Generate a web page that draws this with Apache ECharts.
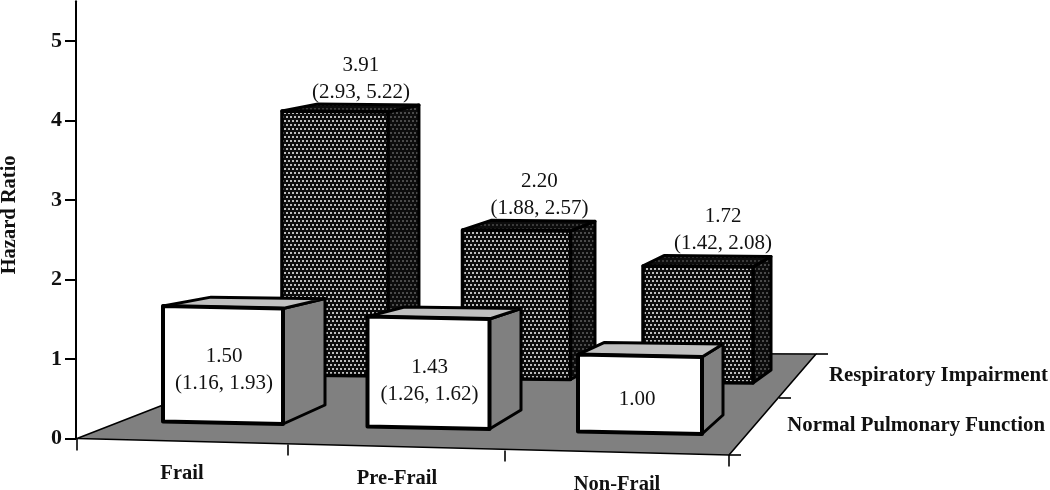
<!DOCTYPE html>
<html>
<head>
<meta charset="utf-8">
<title>Hazard Ratio</title>
<style>
  html, body { margin: 0; padding: 0; background: #fff; }
  #container { width: 1050px; height: 490px; }
</style>
<script src="https://cdn.jsdelivr.net/npm/echarts@6/dist/echarts.min.js"></script>
</head>
<body>
<div id="container"></div>
<script>
// data
var categories = ['Frail', 'Pre-Frail', 'Non-Frail'];
var rows = ['Normal Pulmonary Function', 'Respiratory Impairment'];
var tickLabels = [0, 1, 2, 3, 4, 5];
var normalValues = [1.50, 1.43, 1.00];
var normalLow = [1.16, 1.26, null];
var normalHigh = [1.93, 1.62, null];
var impairedValues = [3.91, 2.20, 1.72];
var impairedLow = [2.93, 1.88, 1.42];
var impairedHigh = [5.22, 2.57, 2.08];

var SERIF = '"Liberation Serif", serif';

// dotted screen used on the rear bars
function dots(bg, fg) {
  var c = document.createElement('canvas');
  c.width = 4;
  c.height = 8;
  var ctx = c.getContext('2d');
  ctx.fillStyle = bg;
  ctx.fillRect(0, 0, 4, 8);
  ctx.fillStyle = fg;
  ctx.fillRect(0, 0, 2, 2);
  ctx.fillRect(2, 4, 2, 2);
  return { image: c, repeat: 'repeat' };
}
var faceFill = dots('#0c0c0c', '#bcbcbc');
var sideFill = dots('#0c0c0c', '#4a4a4a');
var topFill = dots('#0c0c0c', '#3a3a3a');

function poly(points, fill, lineWidth) {
  return {
    type: 'polygon',
    shape: { points: points },
    style: { fill: fill, stroke: '#000', lineWidth: lineWidth, lineJoin: 'round' }
  };
}
function line(x1, y1, x2, y2) {
  return {
    type: 'line',
    shape: { x1: x1, y1: y1, x2: x2, y2: y2 },
    style: { stroke: '#000', lineWidth: 1.6 }
  };
}
function label(text, x, y, size, bold, align) {
  return {
    type: 'text',
    style: {
      text: text, x: x, y: y, fill: '#111',
      font: (bold ? 'bold ' : '') + size + 'px ' + SERIF,
      align: align || 'center', verticalAlign: 'middle'
    }
  };
}

// left end of the category axis, where the value axis stands
function axisOrigin(api) {
  var o = api.coord([0, 0]);
  return [o[0] - api.size([1, 0])[0] / 2, o[1]];
}

// floor, its ticks and the category / row labels
function renderFloor(params, api) {
  var o = axisOrigin(api);
  var ox = o[0], oy = o[1];
  var children = [
    poly([[ox + 1, oy], [ox + 653, oy + 16.5], [ox + 740, oy - 84.5], [ox + 222, oy - 86]], '#808080', 1.6),
    line(ox + 1, oy, ox + 1, oy + 12),
    line(ox + 212, oy + 6, ox + 212, oy + 17),
    line(ox + 429, oy + 12, ox + 429, oy + 23),
    line(ox + 653, oy + 16.5, ox + 653, oy + 28),
    line(ox + 653, oy + 16.5, ox + 665, oy + 16.5),
    line(ox + 703, oy - 40.5, ox + 715, oy - 40.5),
    line(ox + 740, oy - 84.5, ox + 752, oy - 84.5)
  ];
  var labelX = [182, 397, 617];
  var labelDy = [35.5, 40.5, 46.5];
  categories.forEach(function (c, i) {
    children.push(label(c, labelX[i], oy + labelDy[i], 20.5, true));
  });
  children.push(label(rows[1], 1048, oy - 63, 20.8, true, 'right'));
  children.push(label(rows[0], 1045, oy - 13, 20.8, true, 'right'));
  return { type: 'group', children: children };
}

function ciText(low, high) {
  return '(' + low.toFixed(2) + ', ' + high.toFixed(2) + ')';
}

// hand nudges so boxes and numbers sit where the drawing has them
var frontNudgeX = [0, -3, 0];
var frontTextX = [0, 0, -4];
var frontTextY = [2, 6, 2];
var rearTextX = [-27, -31, -30];

// front row: white boxes with the numbers on the face
function renderFront(params, api) {
  var i = api.value(0), v = api.value(1);
  var c = api.coord([i, 0]);
  var unit = c[1] - api.coord([i, 1])[1];
  var x0 = c[0] - 16.75 + frontNudgeX[i];
  var w = 120 + 2 * i;
  var yb = c[1] - 17 + 5 * i;
  var backL = 48 - 11 * i, backR = 42 - 10.5 * i;
  var h = v * unit * 0.968, hb = v * unit * 0.892;
  var fl = [x0, yb], fr = [x0 + w, yb + 2.5];
  var ftl = [x0, yb - h], ftr = [x0 + w, yb + 2.5 - h];
  var br = [fr[0] + backR, fr[1] - 19], btr = [fr[0] + backR, fr[1] - 19 - hb];
  var btl = [x0 + backL, yb - 19 - hb + 1];
  var tx = x0 + w / 2 + 1 + frontTextX[i], ty = yb - h / 2 + 4 + frontTextY[i];
  var children = [
    poly([ftr, fr, br, btr], '#808080', 3),
    poly([ftl, ftr, btr, btl], '#c0c0c0', 3),
    poly([ftl, ftr, fr, fl], '#fff', 4)
  ];
  if (normalLow[i] != null) {
    children.push(label(v.toFixed(2), tx, ty - 13.5, 21));
    children.push(label(ciText(normalLow[i], normalHigh[i]), tx, ty + 13.5, 21));
  } else {
    children.push(label(v.toFixed(2), tx, ty, 21));
  }
  return { type: 'group', children: children };
}

// rear row: dotted boxes with the numbers above
function renderRear(params, api) {
  var i = api.value(0), v = api.value(1);
  var c = api.coord([i, 0]);
  var o = axisOrigin(api);
  var unit = c[1] - api.coord([i, 1])[1];
  var x0 = o[0] + 0.87 * (c[0] - o[0]) + 115.7;
  var w = 106 + 2 * i;
  var yb = c[1] - 63.5 + 3.5 * i;
  var backL = 36 - 7.5 * i, backR = 31 - 6.5 * i;
  var h = v * unit * 0.849, hb = v * unit * 0.83;
  var fl = [x0, yb], fr = [x0 + w, yb + 1];
  var ftl = [x0, yb - h], ftr = [x0 + w, yb + 1 - h];
  var br = [fr[0] + backR, fr[1] - 13], btr = [fr[0] + backR, fr[1] - 13 - hb];
  var btl = [x0 + backL, yb - 13 - hb];
  var tx = fr[0] + rearTextX[i];
  var ty = btr[1] - 13;
  return {
    type: 'group',
    children: [
      poly([ftr, fr, br, btr], sideFill, 3),
      poly([ftl, ftr, btr, btl], topFill, 3),
      poly([ftl, ftr, fr, fl], faceFill, 3.5),
      label(v.toFixed(2), tx, ty - 27, 21),
      label(ciText(impairedLow[i], impairedHigh[i]), tx, ty, 21)
    ]
  };
}

function toData(values) {
  return values.map(function (v, i) { return [i, v]; });
}

var dom = document.getElementById('container');
var myChart = echarts.init(dom, null, { renderer: 'canvas' });
var option = {
  animation: false,
  backgroundColor: '#fff',
  grid: { left: 76, right: 351.5, top: 1.25, bottom: 51.5, outerBoundsMode: 'none' },
  xAxis: {
    type: 'category',
    data: categories,
    show: false
  },
  yAxis: {
    type: 'value',
    min: 0,
    max: 5.5,
    name: 'Hazard Ratio',
    nameLocation: 'middle',
    nameGap: 56,
    nameTextStyle: { fontFamily: SERIF, fontWeight: 'bold', fontSize: 20.5, color: '#111', padding: [0, 0, 0, 10] },
    splitLine: { show: false },
    axisLine: { show: true, lineStyle: { color: '#000', width: 2 } },
    axisTick: {
      show: true, length: 11, customValues: tickLabels,
      lineStyle: { color: '#000', width: 2 }
    },
    axisLabel: {
      customValues: tickLabels,
      fontFamily: SERIF, fontWeight: 'bold', fontSize: 22, color: '#111', margin: 14
    }
  },
  series: [
    { type: 'custom', name: 'floor', data: [[0, 0]], renderItem: renderFloor, silent: true, clip: false, z: 1 },
    { type: 'custom', name: rows[1], data: toData(impairedValues), renderItem: renderRear, clip: false, z: 2 },
    { type: 'custom', name: rows[0], data: toData(normalValues), renderItem: renderFront, clip: false, z: 3 }
  ]
};
myChart.setOption(option, true);
</script>
</body>
</html>
